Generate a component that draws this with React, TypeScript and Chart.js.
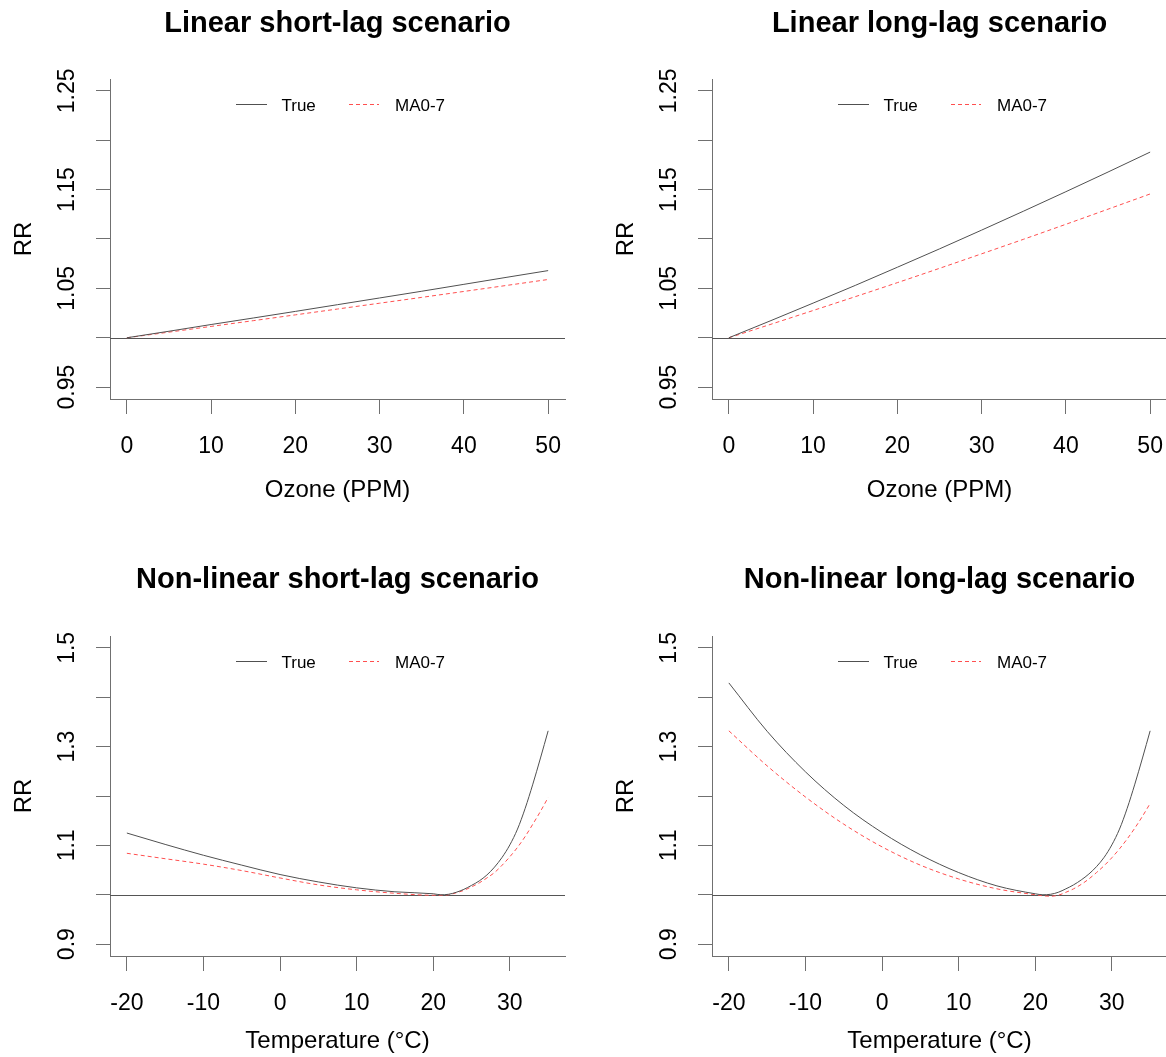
import React, { useEffect, useRef } from "react";
import { Chart, registerables } from "chart.js";

Chart.register(...registerables);

// ---------------- data ----------------
const ozonePPM = [0, 5, 10, 15, 20, 25, 30, 35, 40, 45, 50];
const linShortTrue = [1.0, 1.0066, 1.0134, 1.02, 1.0267, 1.0335, 1.0403, 1.0471, 1.0541, 1.0611, 1.068];
const linShortMA = [1.0, 1.0057, 1.0115, 1.0173, 1.0232, 1.0291, 1.035, 1.0409, 1.0469, 1.0529, 1.059];
const linLongTrue = [1.0, 1.0174, 1.0351, 1.053, 1.0714, 1.09, 1.109, 1.1283, 1.1479, 1.1678, 1.188];
const linLongMA = [1.0, 1.0137, 1.0276, 1.0416, 1.0558, 1.0703, 1.085, 1.0998, 1.1149, 1.1302, 1.1456];

const temperature = [-20, -15, -10, -5, 0, 5, 10, 15, 20, 21, 22, 23, 24, 25, 26, 27, 28, 29, 30, 31, 32, 33, 34, 35];
const nlShortTrue = [1.125, 1.102, 1.08, 1.06, 1.041, 1.026, 1.014, 1.006, 1.002, 1.0, 1.001, 1.005, 1.011, 1.019, 1.028, 1.04, 1.056, 1.076, 1.101, 1.133, 1.175, 1.224, 1.277, 1.332];
const nlShortMA = [1.084, 1.073, 1.062, 1.049, 1.034, 1.02, 1.01, 1.003, 0.999, 0.999, 1.0, 1.004, 1.009, 1.016, 1.024, 1.034, 1.045, 1.06, 1.077, 1.096, 1.118, 1.143, 1.169, 1.197];
const nlLongTrue = [1.429, 1.331, 1.249, 1.181, 1.126, 1.081, 1.045, 1.018, 1.002, 1.0, 1.001, 1.005, 1.012, 1.02, 1.03, 1.042, 1.057, 1.076, 1.101, 1.133, 1.175, 1.224, 1.277, 1.332];
const nlLongMA = [1.332, 1.261, 1.198, 1.143, 1.097, 1.06, 1.032, 1.012, 1.0, 0.998, 0.997, 0.999, 1.005, 1.012, 1.021, 1.032, 1.045, 1.059, 1.075, 1.093, 1.113, 1.135, 1.159, 1.185];

const ozoneTicks = [0, 10, 20, 30, 40, 50];
const ozoneTickLabels = ["0", "10", "20", "30", "40", "50"];
const tempTicks = [-20, -10, 0, 10, 20, 30];
const tempTickLabels = ["-20", "-10", "0", "10", "20", "30"];
const rrTicksLinear = [0.95, 1.0, 1.05, 1.1, 1.15, 1.2, 1.25];
const rrTickLabelsLinear = ["0.95", "", "1.05", "", "1.15", "", "1.25"];
const rrTicksNonlin = [0.9, 1.0, 1.1, 1.2, 1.3, 1.4, 1.5];
const rrTickLabelsNonlin = ["0.9", "", "1.1", "", "1.3", "", "1.5"];

const seriesNames = ["True", "MA0-7"];
const refRR = 1;

// ---------------- styles ----------------
const FONT = '"Liberation Sans", Arial, Helvetica, sans-serif';
const AXIS_COLOR = "#707070";
const TRUE_COLOR = "#505050";
const MA_COLOR = "#ff4f4f";
const ABLINE_COLOR = "#555555";
const PANEL_W = 602;

interface PanelDef {
  title: string;
  xLabel: string;
  x: number[];
  yTrue: number[];
  yMA: number[];
  xMin: number;
  xMax: number;
  yMin: number;
  yMax: number;
  xTicks: number[];
  xTickLabels: string[];
  yTicks: number[];
  yTickLabels: string[];
  left: number;
  top: number;
  height: number;
  titleBase: number;
  xLabelGap: number;
}

const AREA_TOP = 79;
const AREA_BOTTOM = 399;
const AREA_LEFT = 110;
const AREA_RIGHT = 565;

const panels: PanelDef[] = [
  {
    title: "Linear short-lag scenario", xLabel: "Ozone (PPM)", x: ozonePPM, yTrue: linShortTrue, yMA: linShortMA,
    xMin: -2, xMax: 52, yMin: 0.938, yMax: 1.262, xTicks: ozoneTicks, xTickLabels: ozoneTickLabels,
    yTicks: rrTicksLinear, yTickLabels: rrTickLabelsLinear, left: 0, top: 0, height: 557, titleBase: 31.5, xLabelGap: 98,
  },
  {
    title: "Linear long-lag scenario", xLabel: "Ozone (PPM)", x: ozonePPM, yTrue: linLongTrue, yMA: linLongMA,
    xMin: -2, xMax: 52, yMin: 0.938, yMax: 1.262, xTicks: ozoneTicks, xTickLabels: ozoneTickLabels,
    yTicks: rrTicksLinear, yTickLabels: rrTickLabelsLinear, left: PANEL_W, top: 0, height: 557, titleBase: 31.5, xLabelGap: 98,
  },
  {
    title: "Non-linear short-lag scenario", xLabel: "Temperature (°C)", x: temperature, yTrue: nlShortTrue, yMA: nlShortMA,
    xMin: -22.2, xMax: 37.2, yMin: 0.876, yMax: 1.524, xTicks: tempTicks, xTickLabels: tempTickLabels,
    yTicks: rrTicksNonlin, yTickLabels: rrTickLabelsNonlin, left: 0, top: 557, height: 500, titleBase: 30.5, xLabelGap: 92,
  },
  {
    title: "Non-linear long-lag scenario", xLabel: "Temperature (°C)", x: temperature, yTrue: nlLongTrue, yMA: nlLongMA,
    xMin: -22.2, xMax: 37.2, yMin: 0.876, yMax: 1.524, xTicks: tempTicks, xTickLabels: tempTickLabels,
    yTicks: rrTicksNonlin, yTickLabels: rrTickLabelsNonlin, left: PANEL_W, top: 557, height: 500, titleBase: 30.5, xLabelGap: 92,
  },
];

function makeDecor(p: PanelDef) {
  return {
    id: "decor",
    beforeDatasetsDraw(chart: any) {
      const { ctx, chartArea } = chart;
      const yy = Math.round(chart.scales.y.getPixelForValue(refRR)) + 0.5;
      ctx.save();
      ctx.strokeStyle = ABLINE_COLOR;
      ctx.lineWidth = 1;
      ctx.beginPath();
      ctx.moveTo(chartArea.left, yy);
      ctx.lineTo(chartArea.right, yy);
      ctx.stroke();
      ctx.restore();
    },
    afterDraw(chart: any) {
      const { ctx, chartArea } = chart;
      const xs = chart.scales.x;
      const ys = chart.scales.y;
      const cx = (chartArea.left + chartArea.right) / 2;
      const cy = (chartArea.top + chartArea.bottom) / 2;
      ctx.save();
      ctx.fillStyle = "#000";

      // title
      ctx.font = `bold 29px ${FONT}`;
      ctx.textAlign = "center";
      ctx.textBaseline = "alphabetic";
      ctx.fillText(p.title, cx, p.titleBase);

      // x tick labels
      const tfs = 23;
      ctx.font = `${tfs}px ${FONT}`;
      p.xTicks.forEach((v, i) => {
        ctx.fillText(p.xTickLabels[i], xs.getPixelForValue(v), chartArea.bottom + 46 + 0.358 * tfs);
      });

      // y tick labels (rotated)
      p.yTicks.forEach((v, i) => {
        const lab = p.yTickLabels[i];
        if (!lab) return;
        ctx.save();
        ctx.translate(66, ys.getPixelForValue(v));
        ctx.rotate(-Math.PI / 2);
        ctx.fillText(lab, 0, 0.358 * tfs);
        ctx.restore();
      });

      // axis titles
      const afs = 24;
      ctx.font = `${afs}px ${FONT}`;
      ctx.fillText(p.xLabel, cx, chartArea.bottom + p.xLabelGap);
      ctx.save();
      ctx.translate(22.5, cy);
      ctx.rotate(-Math.PI / 2);
      ctx.fillText("RR", 0, 0.358 * afs);
      ctx.restore();

      // legend
      const lyi = Math.round(chartArea.top + 25);
      const lfs = 17;
      ctx.fillStyle = TRUE_COLOR;
      ctx.fillRect(Math.round(cx - 102), lyi, 31, 1);
      ctx.fillStyle = MA_COLOR;
      const mx0 = Math.round(cx + 11);
      for (let d = 0; d < 30; d += 7) {
        ctx.fillRect(mx0 + d, lyi, Math.min(4, 30 - d), 1);
      }
      ctx.fillStyle = "#000";
      ctx.font = `${lfs}px ${FONT}`;
      ctx.textAlign = "left";
      ctx.fillText(seriesNames[0], cx - 56, lyi + 0.5 + 0.358 * lfs);
      ctx.fillText(seriesNames[1], cx + 57.5, lyi + 0.5 + 0.358 * lfs);
      ctx.restore();
    },
  };
}

function Panel({ p }: { p: PanelDef }) {
  const ref = useRef<HTMLCanvasElement>(null);
  useEffect(() => {
    if (!ref.current) return;
    const chart = new Chart(ref.current, {
      type: "line",
      data: {
        datasets: [
          {
            label: seriesNames[0],
            data: p.x.map((v, i) => ({ x: v, y: p.yTrue[i] })),
            borderColor: TRUE_COLOR,
            borderWidth: 1,
            pointRadius: 0,
            fill: false,
            cubicInterpolationMode: "monotone",
          },
          {
            label: seriesNames[1],
            data: p.x.map((v, i) => ({ x: v, y: p.yMA[i] })),
            borderColor: MA_COLOR,
            borderWidth: 1,
            borderDash: [4, 3],
            pointRadius: 0,
            fill: false,
            cubicInterpolationMode: "monotone",
          },
        ],
      },
      options: {
        responsive: false,
        animation: false,
        devicePixelRatio: 1,
        layout: { padding: { top: AREA_TOP, right: PANEL_W - AREA_RIGHT, left: 0, bottom: 0 } },
        plugins: {
          legend: { display: false },
          title: { display: false },
          tooltip: { enabled: false },
        },
        scales: {
          x: {
            type: "linear",
            min: p.xMin,
            max: p.xMax,
            afterBuildTicks: (s: any) => {
              s.ticks = p.xTicks.map((v) => ({ value: v }));
            },
            afterFit: (s: any) => {
              s.height = p.height - AREA_BOTTOM;
            },
            ticks: { display: false },
            grid: { display: true, drawOnChartArea: false, drawTicks: true, tickLength: 15, color: AXIS_COLOR, lineWidth: 1 },
            border: { display: true, color: AXIS_COLOR, width: 1 },
          },
          y: {
            type: "linear",
            min: p.yMin,
            max: p.yMax,
            afterBuildTicks: (s: any) => {
              s.ticks = p.yTicks.map((v) => ({ value: v }));
            },
            afterFit: (s: any) => {
              s.width = AREA_LEFT;
            },
            ticks: { display: false },
            grid: { display: true, drawOnChartArea: false, drawTicks: true, tickLength: 14, color: AXIS_COLOR, lineWidth: 1 },
            border: { display: true, color: AXIS_COLOR, width: 1 },
          },
        },
      } as any,
      plugins: [makeDecor(p)],
    });
    return () => chart.destroy();
  }, [p]);
  return (
    <div style={{ position: "absolute", left: p.left, top: p.top, width: PANEL_W, height: p.height }}>
      <canvas ref={ref} width={PANEL_W} height={p.height} style={{ width: PANEL_W, height: p.height, display: "block" }} />
    </div>
  );
}

export default function App() {
  return (
    <div
      style={{
        position: "absolute",
        left: 0,
        top: 0,
        width: 1166,
        height: 1057,
        overflow: "hidden",
        background: "#fff",
      }}
    >
      {panels.map((p, i) => (
        <Panel key={i} p={p} />
      ))}
    </div>
  );
}
